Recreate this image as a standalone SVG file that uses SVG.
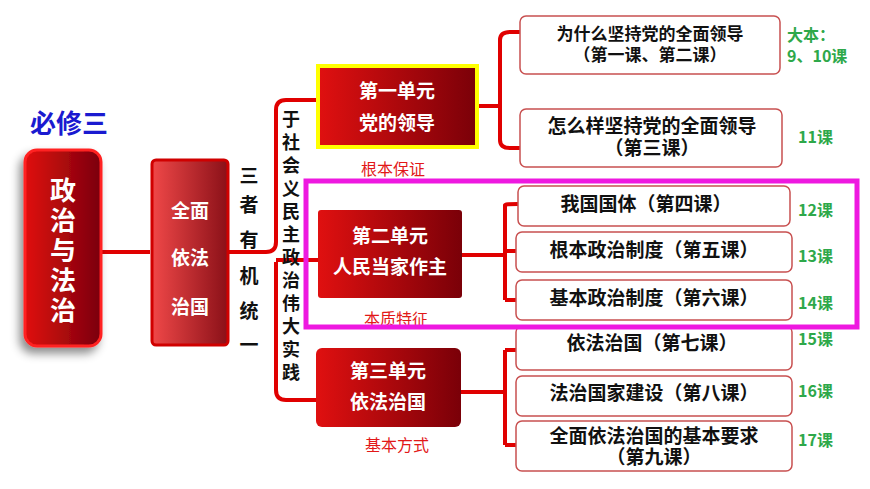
<svg xmlns="http://www.w3.org/2000/svg" width="870" height="489" viewBox="0 0 870 489">
<defs>
<linearGradient id="rg" x1="0" y1="0" x2="1" y2="0"><stop offset="0" stop-color="#e01010"/><stop offset="1" stop-color="#7a0008"/></linearGradient>
<linearGradient id="rg2" x1="0" y1="0" x2="1" y2="0"><stop offset="0" stop-color="#f04848"/><stop offset="1" stop-color="#8a1018"/></linearGradient>
<filter id="sh" x="-30%" y="-20%" width="160%" height="140%"><feDropShadow dx="-4" dy="6" stdDeviation="5" flood-opacity="0.45"/></filter>
</defs>
<style>
text{font-family:"Noto Sans CJK SC","Liberation Sans",sans-serif;font-weight:bold}
.w{fill:#fff;font-size:19px;text-anchor:middle}
.b{fill:#111;font-size:19px;text-anchor:middle}
.v{fill:#111;font-size:18px;text-anchor:middle}
.g{fill:#2ea84a;font-size:16px}
.r{fill:#e21818;font-size:16px;text-anchor:middle;font-weight:normal}
.box{fill:#fff;stroke:#c85050;stroke-width:1.5}
.c{fill:none;stroke:#e00000;stroke-width:4;stroke-linejoin:round}
</style>
<rect width="870" height="489" fill="#fff"/>
<text x="30" y="133" style="fill:#1a1ad0;font-size:26px">必修三</text>
<g id="connectors">
<path class="c" d="M100 252H150" stroke="#c00000"/>
<path class="c" d="M228 252H266Q276 252 276 242V110Q276 100 286 100H318M276 262V390Q276 400 286 400H316M276 260H318"/>
<path class="c" d="M477 106H500M500 40V140M500 40Q500 32 510 32H520M500 140Q500 148 510 148H520"/>
<path class="c" d="M462 255H505M505 205V300M505 205Q505 204 518 204M505 300Q505 300 518 300M505 251H518"/>
<path class="c" d="M460 392H505M505 350V445M505 350H518M505 445H518"/>
</g>
<g id="n-main"><rect x="25" y="150" width="76" height="196" rx="12" fill="url(#rg)" stroke="#ff2020" stroke-width="3" filter="url(#sh)"/>
<text class="w" style="font-size:26px" x="63" y="200">政</text><text class="w" style="font-size:26px" x="63" y="230">治</text><text class="w" style="font-size:26px" x="63" y="260">与</text><text class="w" style="font-size:26px" x="63" y="290">法</text><text class="w" style="font-size:26px" x="63" y="320">治</text></g>
<g id="n-qm"><rect x="152" y="160" width="76" height="185" rx="4" fill="url(#rg2)" stroke="#d00000" stroke-width="3"/>
<text class="w" x="190" y="218">全面</text><text class="w" x="190" y="265">依法</text><text class="w" x="190" y="314">治国</text></g>
<g id="t-sz"><text class="b" x="249" y="183">三</text><text class="b" x="249" y="212">者</text><text class="b" x="249" y="247">有</text><text class="b" x="249" y="283">机</text><text class="b" x="249" y="318">统</text><text class="b" x="249" y="352">一</text></g>
<g id="t-ys"><text class="v" x="291" y="126">于</text><text class="v" x="291" y="149">社</text><text class="v" x="291" y="172">会</text><text class="v" x="291" y="195">义</text><text class="v" x="291" y="218">民</text><text class="v" x="291" y="241">主</text><text class="v" x="291" y="264">政</text><text class="v" x="291" y="287">治</text><text class="v" x="291" y="310">伟</text><text class="v" x="291" y="333">大</text><text class="v" x="291" y="356">实</text><text class="v" x="291" y="379">践</text></g>
<g id="u1"><rect x="318" y="66" width="159" height="81" fill="url(#rg)" stroke="#ffff00" stroke-width="4"/><text class="w" x="397" y="98">第一单元</text><text class="w" x="397" y="130">党的领导</text><text class="r" x="393" y="175">根本保证</text></g>
<g id="u2"><rect x="318" y="210" width="144" height="88" rx="3" fill="url(#rg)"/><text class="w" x="390" y="243">第二单元</text><text class="w" x="390" y="274">人民当家作主</text><text class="r" x="396" y="325">本质特征</text></g>
<g id="u3"><rect x="316" y="348" width="145" height="79" rx="6" fill="url(#rg)"/><text class="w" x="388" y="378">第三单元</text><text class="w" x="388" y="409">依法治国</text><text class="r" x="397" y="451">基本方式</text></g>
<g id="l1"><rect class="box" x="520" y="16" width="260" height="58" rx="6" stroke="#e02020" stroke-width="2.5"/><text class="b" x="650" y="40" style="font-size:17px">为什么坚持党的全面领导</text><text class="b" x="650" y="61" style="font-size:17px">（第一课、第二课）</text><text class="g" x="787" y="41">大本：</text><text class="g" x="787" y="62">9、10课</text></g>
<g id="l2"><rect class="box" x="520" y="109" width="262" height="58" rx="6"/><text class="b" x="652" y="133">怎么样坚持党的全面领导</text><text class="b" x="652" y="155">（第三课）</text><text class="g" x="798" y="143">11课</text></g>
<g id="l3"><rect class="box" x="518" y="186" width="272" height="40" rx="6"/><text class="b" x="646" y="211">我国国体（第四课）</text><text class="g" x="798" y="216">12课</text></g>
<g id="l4"><rect class="box" x="516" y="232" width="276" height="40" rx="6"/><text class="b" x="654" y="257">根本政治制度（第五课）</text><text class="g" x="798" y="262">13课</text></g>
<g id="l5"><rect class="box" x="516" y="280" width="276" height="40" rx="6"/><text class="b" x="654" y="305">基本政治制度（第六课）</text><text class="g" x="798" y="309">14课</text></g>
<g id="l6"><rect class="box" x="516" y="326" width="276" height="44" rx="6"/><text class="b" x="652" y="350">依法治国（第七课）</text><text class="g" x="798" y="345">15课</text></g>
<g id="l7"><rect class="box" x="516" y="376" width="276" height="40" rx="6"/><text class="b" x="654" y="400">法治国家建设（第八课）</text><text class="g" x="798" y="397">16课</text></g>
<g id="l8"><rect class="box" x="516" y="421" width="276" height="50" rx="6"/><text class="b" x="654" y="443">全面依法治国的基本要求</text><text class="b" x="654" y="464">（第九课）</text><text class="g" x="798" y="446">17课</text></g>
<rect id="hl" x="306" y="181" width="551" height="146" fill="none" stroke="#ee18e0" stroke-width="5"/>
</svg>
